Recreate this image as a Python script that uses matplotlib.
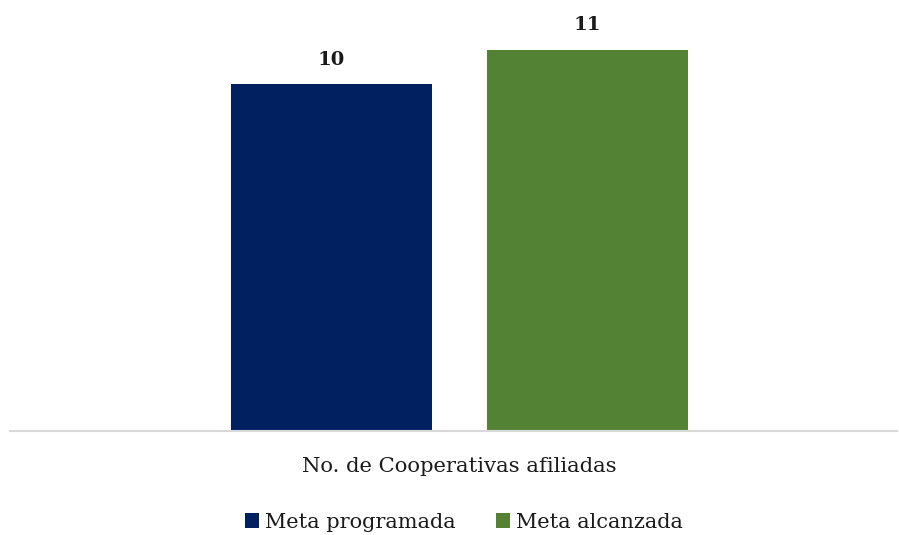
import matplotlib.pyplot as plt

# Datos
categoria = 'No. de Cooperativas afiliadas'
series = ['Meta programada', 'Meta alcanzada']
valores = [10, 11]
colores = ['#002060', '#548235']

plt.rcParams['font.family'] = ['DejaVu Serif']

fig = plt.figure(figsize=(8.99, 5.35), dpi=100)
ax = fig.add_axes([10 / 899, 104 / 535, 887 / 899, 431 / 535])

posiciones = [0, 1]
for pos, val, col, nombre in zip(posiciones, valores, colores, series):
    b = ax.bar(pos, val, width=0.785, color=col, label=nombre)
    ax.bar_label(b, padding=11, fontsize=14, fontweight='bold', color='#1a1a1a')

ax.set_xlim(-1.256, 2.209)
ax.set_ylim(0, 431 / 34.67)

# Eje
for lado in ['top', 'right', 'left']:
    ax.spines[lado].set_visible(False)
ax.spines['bottom'].set_color('#d9d9d9')
ax.spines['bottom'].set_linewidth(1.5)
ax.set_yticks([])
ax.set_xticks([0.5])
ax.set_xticklabels([categoria], fontsize=15.2, color='#1a1a1a')
ax.tick_params(axis='x', length=0, pad=19)

# Leyenda
fig.legend(loc='center', bbox_to_anchor=(464 / 899, 1 - 522 / 535), ncol=2,
           frameon=False, fontsize=15, handlelength=0.7, handleheight=0.7,
           handletextpad=0.3, columnspacing=1.9, labelcolor='#1a1a1a')

fig.savefig('out.png', dpi=100)
